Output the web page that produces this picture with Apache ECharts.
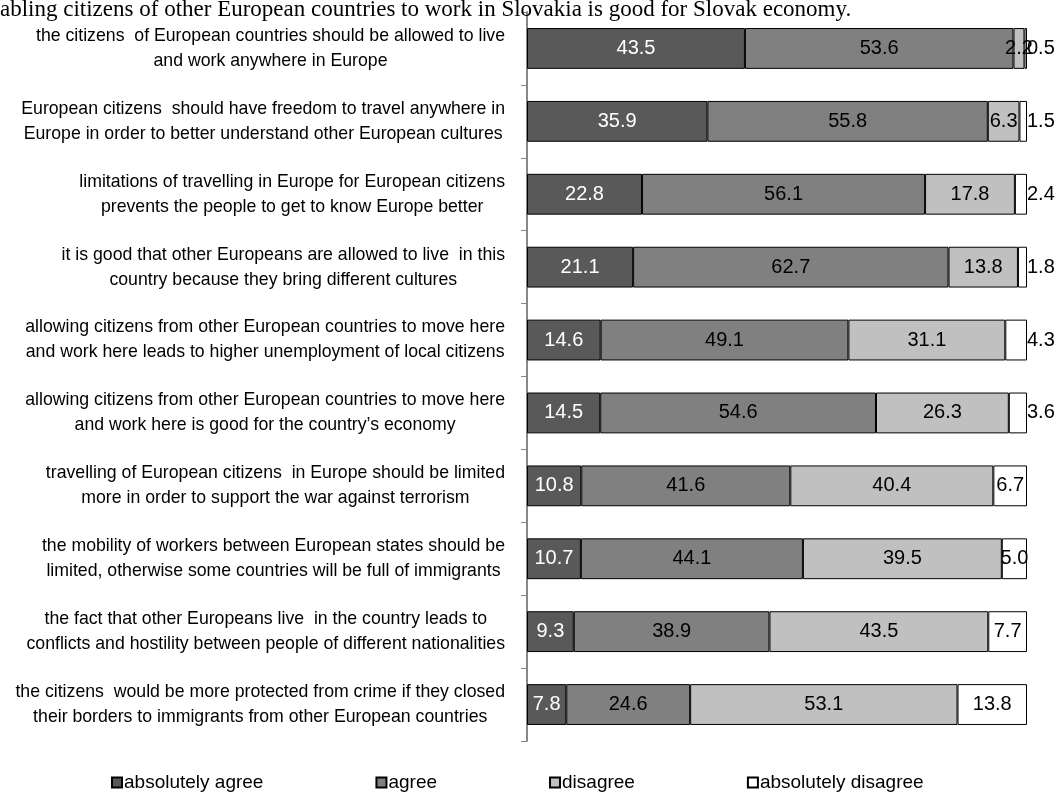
<!DOCTYPE html>
<html>
<head>
<meta charset="utf-8">
<script src="https://cdn.jsdelivr.net/npm/echarts@6/dist/echarts.min.js"></script>
<style>
  html, body { margin: 0; padding: 0; background: #fff; }
  #chart { width: 1056px; height: 794px; }
</style>
</head>
<body>
<div id="chart"></div>
<script>
const titleText = 'abling citizens of other European countries to work in Slovakia is good for Slovak economy.';

const statements = [
    'the citizens  of European countries should be allowed to live\nand work anywhere in Europe',
    'European citizens  should have freedom to travel anywhere in\nEurope in order to better understand other European cultures',
    'limitations of travelling in Europe for European citizens\nprevents the people to get to know Europe better',
    'it is good that other Europeans are allowed to live  in this\ncountry because they bring different cultures',
    'allowing citizens from other European countries to move here\nand work here leads to higher unemployment of local citizens',
    'allowing citizens from other European countries to move here\nand work here is good for the country\u2019s economy',
    'travelling of European citizens  in Europe should be limited\nmore in order to support the war against terrorism',
    'the mobility of workers between European states should be\nlimited, otherwise some countries will be full of immigrants',
    'the fact that other Europeans live  in the country leads to\nconflicts and hostility between people of different nationalities',
    'the citizens  would be more protected from crime if they closed\ntheir borders to immigrants from other European countries'
];

const absolutelyAgree    = [43.5, 35.9, 22.8, 21.1, 14.6, 14.5, 10.8, 10.7, 9.3, 7.8];
const agree              = [53.6, 55.8, 56.1, 62.7, 49.1, 54.6, 41.6, 44.1, 38.9, 24.6];
const disagree           = [2.2, 6.3, 17.8, 13.8, 31.1, 26.3, 40.4, 39.5, 43.5, 53.1];
const absolutelyDisagree = [0.5, 1.5, 2.4, 1.8, 4.3, 3.6, 6.7, 5.0, 7.7, 13.8];

const seriesNames = ['absolutely agree', 'agree', 'disagree', 'absolutely disagree'];
const seriesColors = ['#595959', '#808080', '#c0c0c0', '#ffffff'];
const labelColors = ['#ffffff', '#000000', '#000000', '#000000'];

const groups = [absolutelyAgree, agree, disagree, absolutelyDisagree];
// each row is drawn as a share of its own total (100% stacked)
const rowTotals = statements.map((s, i) => groups.reduce((sum, g) => sum + g[i], 0));

const chart = echarts.init(document.getElementById('chart'));

const series = groups.map((values, k) => ({
    name: seriesNames[k],
    type: 'bar',
    stack: 'total',
    barCategoryGap: '44%',
    itemStyle: {
        color: seriesColors[k],
        borderColor: '#000',
        borderWidth: 1
    },
    label: {
        show: true,
        position: 'inside',
        color: labelColors[k],
        fontFamily: 'Liberation Sans',
        fontSize: 20,
        formatter: p => values[p.dataIndex].toFixed(1)
    },
    data: values.map((v, i) => {
        const item = { value: v / rowTotals[i] * 100 };
        // the thin last slices carry their label just past the bar end
        if (k === 3 && v < 4.5) {
            item.label = { position: 'right', distance: 0 };
        }
        return item;
    })
}));

chart.setOption({
    animation: false,
    textStyle: { fontFamily: 'Liberation Sans' },
    title: {
        text: titleText,
        left: -5,
        top: -7,
        textStyle: {
            fontFamily: 'Liberation Serif',
            fontWeight: 'normal',
            fontSize: 23,
            color: '#000'
        }
    },
    grid: {
        left: 527,
        right: 29,
        top: 12,
        height: 729,
        containLabel: false
    },
    legend: {
        top: 768,
        left: 106,
        itemGap: 112,
        itemWidth: 10,
        itemHeight: 10,
        icon: 'rect',
        textStyle: {
            fontSize: 19,
            color: '#000',
            padding: [0, 0, 0, -3]
        },
        data: seriesNames
    },
    xAxis: {
        type: 'value',
        min: 0,
        max: 100,
        show: false
    },
    yAxis: {
        type: 'category',
        inverse: true,
        data: statements,
        axisLine: { lineStyle: { color: '#888', width: 2 } },
        axisTick: { show: true, length: 6, lineStyle: { color: '#888', width: 1 } },
        axisLabel: {
            margin: 22,
            color: '#000',
            fontSize: 17.7,
            lineHeight: 25,
            formatter: v => v.split('\n').map(l => '{c|' + l + '}').join('\n'),
            rich: {
                c: { align: 'center', fontSize: 17.7, lineHeight: 25 }
            }
        }
    },
    series: series
});
</script>
</body>
</html>
